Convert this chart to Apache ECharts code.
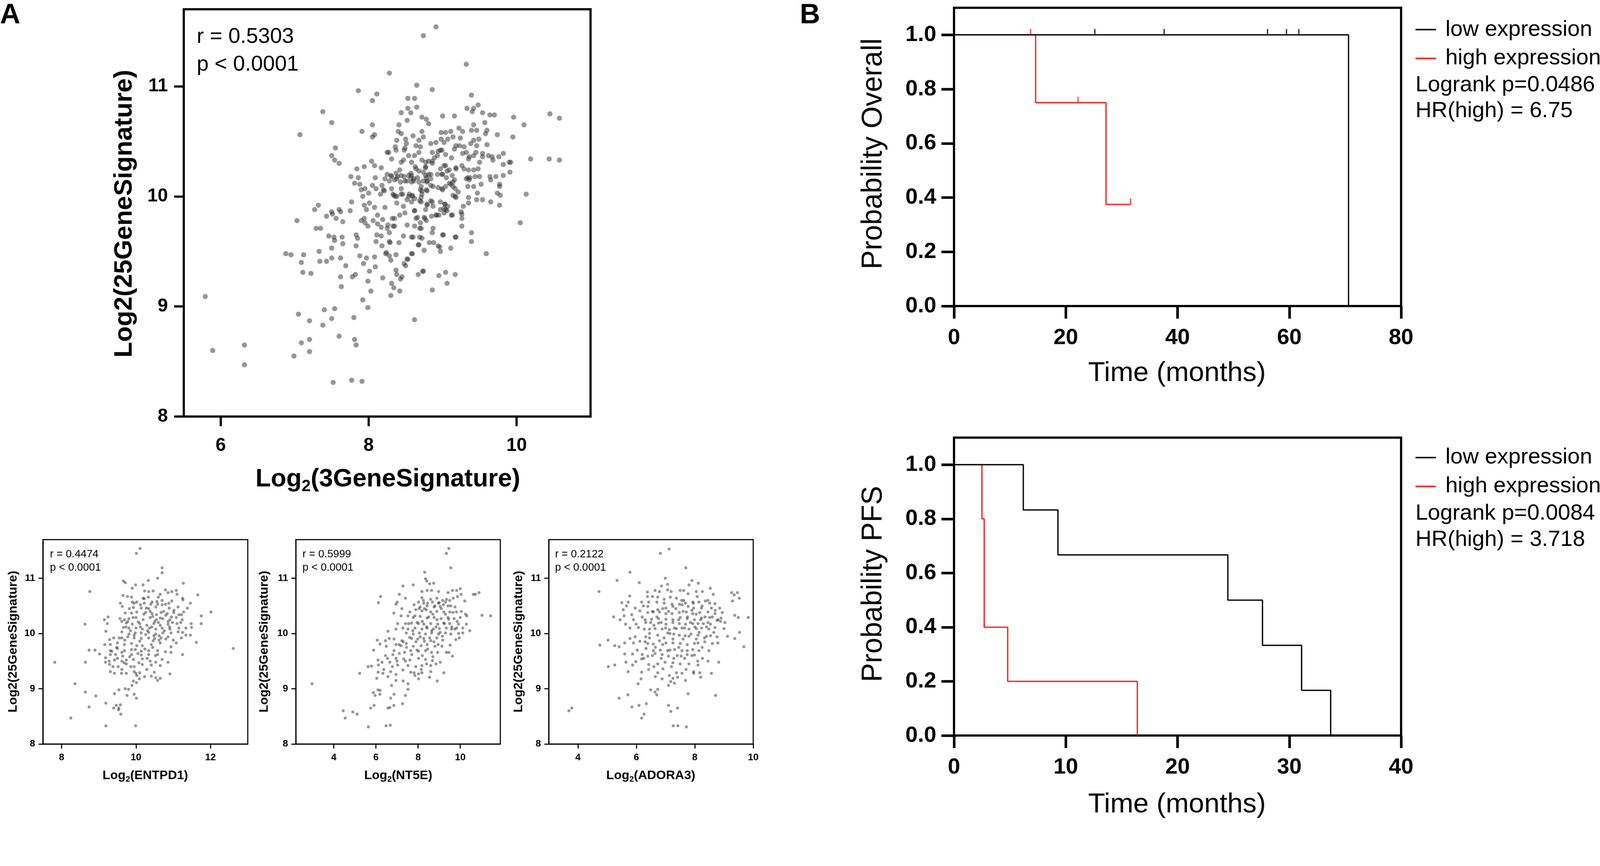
<!DOCTYPE html>
<html>
<head>
<meta charset="utf-8">
<script src="https://cdn.jsdelivr.net/npm/echarts@6/dist/echarts.min.js"></script>
<style>
  html, body { margin: 0; padding: 0; background: #fff; overflow: hidden; }
  #chart { width: 4327px; height: 2218px; transform-origin: 0 0; }
</style>
</head>
<body>
<div id="chart"></div>
<script>
// --- data ---
// panel A, big scatter: log2(3GeneSignature) vs log2(25GeneSignature)
const sig3Points = [
  [7.86,10.96],[8.11,10.93],[8.05,10.87],[7.38,10.77],[7.50,10.67],[7.07,10.56],[8.05,10.65],[7.91,10.59],[8.08,10.56],[8.05,10.54],
  [7.55,10.44],[7.50,10.37],[7.54,10.33],[7.60,10.30],[8.25,10.40],[8.04,10.32],[8.08,10.28],[7.84,10.25],[7.94,10.27],[8.17,10.26],
  [7.76,10.18],[7.86,10.17],[8.09,10.17],[7.81,10.12],[7.88,10.11],[7.90,10.06],[7.95,10.07],[8.00,10.03],[8.05,10.10],[8.10,10.07],
  [8.18,10.10],[8.20,10.06],[7.92,10.00],[8.01,9.94],[8.08,9.90],[7.94,9.92],[7.77,9.95],[7.32,9.92],[7.27,9.88],[7.60,9.88],
  [7.75,9.87],[7.50,9.86],[8.22,9.90],[8.25,10.20],[8.22,10.16],
  [7.43,9.82],[7.51,9.84],[7.56,9.80],[7.62,9.86],[7.03,9.78],[7.29,9.71],[7.35,9.71],[7.46,9.64],[7.53,9.63],[7.54,9.60],
  [7.64,9.63],[7.65,9.57],[7.83,9.65],[7.85,9.62],[7.83,9.55],[7.65,9.77],[7.90,9.78],[7.94,9.80],[7.95,9.76],[7.99,9.73],
  [8.06,9.78],[8.12,9.83],[8.19,9.79],[8.12,9.75],[8.17,9.72],[8.25,9.71],[8.11,9.65],[8.17,9.64],[8.10,9.59],[8.18,9.55],
  [6.88,9.48],[6.95,9.47],[7.12,9.47],[7.33,9.50],[7.50,9.53],[7.50,9.44],[7.43,9.41],[7.34,9.41],[7.09,9.40],[7.62,9.44],
  [7.88,9.46],[7.97,9.44],[7.93,9.39],[8.08,9.45],[8.23,9.48],[8.09,9.36],[7.69,9.37],[7.11,9.31],[7.22,9.30],[7.62,9.27],
  [7.78,9.27],[7.82,9.29],[8.01,9.32],[7.99,9.23],[8.19,9.26],[7.63,9.18],[8.03,9.14],[7.92,9.06],[7.99,8.99],[5.79,9.09],
  [7.40,8.97],[7.54,8.98],[7.05,8.93],[7.20,8.87],[7.50,8.89],[7.38,8.83],[7.80,8.90],[7.60,8.73],[7.81,8.70],[7.83,8.65],
  [7.20,8.70],[7.09,8.67],[7.20,8.59],[6.99,8.55],[6.32,8.65],[5.89,8.60],[6.32,8.47],[7.52,8.31],[7.77,8.33],[7.91,8.32],
  [10.05,9.76],[9.39,9.67],[9.39,9.59],[9.59,9.48],[9.18,9.63],[9.01,9.65],[9.11,9.53],[8.96,9.54],[8.97,9.50],[9.26,9.73],
  [9.26,9.80],[9.26,9.84],[9.13,9.83],[9.02,9.85],[8.92,9.83],[8.85,9.82],[8.87,9.71],[8.86,9.67],[8.82,9.58],[8.88,9.58],
  [8.75,9.51],[8.72,9.62],[8.67,9.56],[8.60,9.63],[8.47,9.64],[8.41,9.58],[8.29,9.58],[8.28,9.67],[8.33,9.73],[8.32,9.80],
  [8.42,9.83],[8.52,9.74],[8.62,9.73],[8.66,9.81],[8.69,9.71],[8.75,9.81],[8.78,9.78],[8.70,9.76],[8.59,9.48],[8.52,9.43],
  [8.48,9.39],[8.50,9.37],[8.37,9.47],[8.30,9.42],[8.37,9.33],[8.38,9.29],[8.45,9.27],[8.43,9.25],[8.67,9.29],[8.74,9.32],
  [8.95,9.28],[9.04,9.31],[9.17,9.29],[9.06,9.21],[8.86,9.15],[8.31,9.21],[8.34,9.17],[8.42,9.14],[8.30,9.10],[8.62,8.88],
  [8.91,11.54],[8.74,11.46],[9.32,11.20],[8.28,11.12],[8.65,11.01],[8.86,10.97],[8.53,10.89],[8.62,10.89],[9.39,10.92],[8.53,10.80],
  [8.57,10.76],[8.65,10.81],[8.44,10.76],[8.52,10.69],[8.41,10.65],[8.72,10.72],[8.78,10.70],[8.81,10.66],[9.00,10.73],[9.16,10.73],
  [9.33,10.80],[9.40,10.77],[9.48,10.83],[9.42,10.80],[9.54,10.76],[9.64,10.74],[9.70,10.74],[9.57,10.67],[9.96,10.72],[10.10,10.65],
  [10.45,10.75],[10.58,10.71],[10.19,10.34],[10.44,10.34],[10.58,10.33],[10.13,10.02],[9.42,10.65],[9.39,10.60],[9.46,10.60],[9.60,10.60],
  [9.58,10.57],[9.74,10.56],[9.95,10.54],[9.60,10.47],[8.38,10.51],[8.40,10.59],[8.44,10.57],[8.50,10.52],[8.60,10.55],[8.72,10.59],
  [8.74,10.54],[8.68,10.51],[8.64,10.46],[8.70,10.45],[8.51,10.48],[8.49,10.44],[8.36,10.45],[8.37,10.42],[8.27,10.40],[8.31,10.34],
  [8.44,10.31],[8.47,10.33],[8.54,10.37],[8.62,10.37],[8.68,10.40],[8.58,10.31],[8.63,10.27],[8.72,10.33],[8.77,10.27],[8.81,10.32],
  [8.86,10.30],[8.84,10.48],[8.91,10.49],[8.86,10.40],[8.93,10.37],[8.97,10.42],[8.98,10.52],[9.02,10.49],[9.04,10.58],[8.98,10.58],
  [9.07,10.52],[9.11,10.59],[9.14,10.54],[9.22,10.62],[9.27,10.59],[9.24,10.53],[9.18,10.46],[9.16,10.43],[9.23,10.46],[9.29,10.45],
  [9.32,10.40],[9.27,10.39],[9.38,10.48],[9.42,10.51],[9.49,10.52],[9.46,10.46],[9.36,10.36],[9.42,10.37],[9.45,10.40],[9.54,10.39],
  [9.54,10.36],[9.62,10.37],[9.67,10.36],[9.68,10.33],[9.76,10.36],[9.82,10.39],[9.82,10.29],[9.90,10.31],[9.92,10.31],[9.91,10.22],
  [9.82,10.19],[9.72,10.18],[9.64,10.18],[9.65,10.15],[9.50,10.18],[9.44,10.18],[9.50,10.31],[9.35,10.34],[9.35,10.24],[9.42,10.24],
  [9.48,10.25],[9.34,10.17],[9.36,10.15],[9.34,10.09],[9.42,10.09],[9.52,10.11],[9.77,10.11],[9.77,10.09],[9.74,10.03],[9.78,10.01],
  [9.77,9.92],[9.65,9.95],[9.54,9.97],[9.46,9.97],[9.47,10.03],[9.35,9.99],[9.35,9.94],[9.28,9.91],[9.25,9.86],[9.18,9.99],
  [9.21,10.04],[9.14,10.01],[9.17,10.07],[9.11,10.11],[9.14,10.13],[9.13,10.19],[9.18,10.26],[9.09,10.24],[9.02,10.28],[9.06,10.23],
  [9.00,10.20],[9.05,10.17],[9.09,10.12],[9.00,10.06],[8.93,10.20],[8.84,10.20],[8.77,10.19],[8.74,10.14],[8.79,10.13],[8.84,10.10],
  [8.78,10.06],[8.70,10.06],[8.72,10.02],[8.69,9.96],[8.79,9.93],[8.84,9.96],[8.77,9.88],[8.87,9.91],[8.97,9.95],[9.03,9.93],
  [9.07,9.91],[9.04,9.88],[8.97,9.88],[8.62,9.87],[8.55,10.02],[8.59,10.00],[8.58,9.95],[8.52,9.97],[8.47,9.91],[8.38,9.94],
  [8.33,10.02],[8.36,10.00],[8.31,10.07],[8.44,10.07],[8.46,10.02],[8.35,10.15],[8.30,10.19],[8.37,10.21],[8.42,10.24],[8.48,10.18],
  [8.54,10.19],[8.57,10.17],[8.61,10.14],[8.52,10.14],[8.57,10.21],[8.68,10.23],[8.66,10.17],[8.68,10.13],[8.43,10.13],
  [8.26,9.74],[8.35,9.73],[8.35,9.80],[8.49,9.85],[8.62,9.87],[8.64,9.80],[8.76,9.80],[8.71,9.71],[8.58,9.63],[8.69,9.63],
  [8.68,9.56],[9.00,9.65],[9.17,9.63],[9.12,9.83],[8.95,9.83],[9.03,9.93],[9.06,9.87],[9.02,9.89],[8.91,9.83],[8.79,9.92],
  [8.86,9.95],[8.71,9.95],[8.28,9.59],[8.24,9.49],[8.28,9.46],[8.53,9.43],[8.58,9.48],[8.94,9.55],[8.73,9.32],[8.16,10.02],
  [7.97,9.88],[8.48,10.42],[9.26,10.28],[9.29,10.25],[8.97,10.25],[8.99,10.20],[9.04,10.28],[9.12,10.35],[8.89,10.35],[8.94,10.41],
  [8.99,10.42],[9.04,10.38],[8.77,10.31],[8.77,10.26],[8.86,10.32],[8.74,10.22],[8.81,10.20],[8.78,10.17],[8.84,10.16],[8.64,10.25],
  [8.58,10.19],[8.61,10.16],[8.58,10.13],[8.49,10.14],[8.44,10.19],[8.39,10.18],[8.31,10.18],[8.38,10.16],[8.28,10.14],[8.71,10.09],
  [8.79,10.14],[8.87,10.09],[8.94,10.08],[9.04,10.09],[8.99,10.07],[8.72,10.05],[8.71,9.99],[8.79,10.05],[8.54,10.00],[8.59,10.01],
  [8.62,9.98],[8.44,10.02],[8.38,10.00],[8.34,10.01],[8.21,10.05],[9.32,10.16],[9.37,10.17],[9.17,10.00],[9.14,10.09],[9.16,10.15],
  [9.18,10.25]
];

// panel A, small scatter 1: log2(ENTPD1)
const entpd1Points = [
  [10.11,11.54],[10.01,11.45],[10.70,11.19],[10.70,11.10],[10.58,11.00],[10.33,10.96],[9.66,10.95],[9.71,10.92],[9.99,10.88],[10.19,10.88],
  [9.90,10.82],[11.27,10.91],[8.76,10.76],[10.23,10.77],[10.34,10.76],[10.46,10.77],[10.79,10.79],[10.96,10.76],[11.08,10.78],[10.86,10.74],
  [11.66,10.70],[9.65,10.69],[9.88,10.66],[9.77,10.67],[10.19,10.64],[10.33,10.66],[10.65,10.71],[11.10,10.71],[11.25,10.64],[10.02,10.57],
  [9.90,10.57],[11.26,10.61],[9.58,10.55],[10.22,10.55],[10.43,10.57],[10.58,10.53],[10.79,10.53],[10.96,10.59],[11.46,10.55],[12.01,10.39],
  [9.63,10.49],[9.93,10.47],[10.14,10.46],[10.34,10.45],[10.53,10.48],[10.70,10.52],[10.89,10.46],[11.13,10.48],[11.38,10.46],[11.15,10.34],
  [11.01,10.38],[10.84,10.36],[10.67,10.38],[10.43,10.36],[10.26,10.38],[10.02,10.39],[9.88,10.37],[9.71,10.37],[11.75,10.32],[11.22,10.34],
  [11.28,10.39],[9.15,10.25],[9.25,10.30],[9.57,10.27],[9.69,10.25],[9.81,10.27],[10.00,10.29],[10.19,10.25],[10.38,10.29],[10.55,10.25],
  [10.72,10.27],[10.91,10.25],[11.08,10.29],[11.24,10.25],[8.63,10.17],[9.23,10.18],[9.74,10.19],[9.90,10.17],[10.10,10.18],[10.29,10.15],
  [10.48,10.18],[10.65,10.15],[10.86,10.17],[11.10,10.18],[11.48,10.18],[11.75,10.18],[9.66,10.11],[9.81,10.10],[10.00,10.10],[10.17,10.08],
  [10.36,10.10],[10.53,10.08],[10.70,10.10],[10.91,10.08],[11.34,10.10],[11.49,10.11],[9.19,10.04],[9.62,10.03],[9.81,9.99],[9.98,10.01],
  [10.14,10.01],[10.34,10.02],[10.53,9.99],[10.72,10.01],[10.94,10.01],[11.13,10.03],[11.25,10.02],[11.46,9.97],[11.34,9.97],[9.40,9.92],
  [9.62,9.92],[9.78,9.94],[9.95,9.92],[10.14,9.91],[10.34,9.92],[10.50,9.91],[10.67,9.92],[10.86,9.94],[11.22,9.92],[12.61,9.73],
  [11.62,9.84],[11.08,9.83],[9.29,9.89],[9.16,9.80],[9.31,9.80],[9.50,9.83],[9.69,9.80],[9.88,9.82],[10.02,9.78],[10.17,9.78],
  [10.41,9.80],[10.65,9.83],[10.94,9.76],[8.74,9.70],[8.90,9.70],[9.02,9.63],[9.31,9.69],[9.50,9.73],[9.69,9.69],[9.88,9.71],
  [9.98,9.71],[10.14,9.68],[10.34,9.69],[10.58,9.69],[10.79,9.67],[10.94,9.66],[11.25,9.62],[9.18,9.56],[9.31,9.62],[9.45,9.62],
  [9.64,9.59],[9.88,9.62],[10.14,9.61],[10.34,9.62],[10.58,9.62],[9.28,9.50],[9.42,9.52],[9.62,9.50],[9.74,9.52],[9.93,9.53],
  [10.17,9.54],[10.38,9.50],[10.53,9.48],[10.70,9.53],[10.86,9.48],[7.82,9.48],[8.64,9.48],[9.18,9.48],[9.29,9.44],[9.52,9.40],
  [9.74,9.45],[9.95,9.40],[10.17,9.44],[10.41,9.43],[10.65,9.42],[9.38,9.40],[9.31,9.31],[9.42,9.28],[9.62,9.35],[9.61,9.28],
  [9.74,9.28],[9.95,9.31],[10.00,9.28],[10.10,9.29],[10.29,9.35],[10.49,9.30],[10.23,9.22],[10.41,9.23],[10.53,9.20],[10.58,9.15],
  [10.65,9.19],[10.91,9.27],[10.02,9.24],[9.93,9.14],[10.01,9.11],[10.09,9.18],[9.89,9.06],[8.36,9.09],[9.71,9.00],[9.80,8.99],
  [9.54,8.98],[9.42,8.91],[8.64,8.94],[8.92,8.87],[9.76,8.88],[9.95,8.90],[10.01,8.83],[9.19,8.74],[9.47,8.70],[9.58,8.71],
  [9.40,8.65],[9.53,8.62],[9.59,8.54],[8.74,8.67],[8.25,8.47],[9.19,8.33],[9.99,8.33],[9.54,8.65],
  [10.38,10.40],[10.45,10.31],[10.50,10.22],[10.55,10.34],[10.42,10.12],[10.31,10.05],[10.60,10.20],[10.65,10.28],[10.74,10.40],[10.80,10.33],
  [10.86,10.22],[10.90,10.12],[10.98,10.20],[10.76,10.05],[10.62,9.96],[10.46,9.87],[10.26,9.98],[10.10,9.86],[9.95,9.97],[9.85,10.05],
  [9.73,10.12],[9.62,10.22],[9.78,10.22],[9.92,10.29],[10.06,10.21],[10.12,10.12],[10.21,10.35],[10.28,10.46],[10.12,10.52],[10.40,10.53],
  [10.56,10.58],[10.70,10.60],[10.88,10.55],[11.02,10.42],[11.15,10.10],[11.20,10.20],[9.70,9.88],[9.55,9.92],[9.48,9.75],[9.62,9.66],
  [9.83,9.58],[10.05,9.64],[10.24,9.72],[10.45,9.75],[10.52,9.60],[10.30,9.55],[10.08,9.47],[9.86,9.40],[9.68,9.47],[9.50,9.55],
  [9.35,9.68],[10.62,9.88],[10.80,9.90],[11.00,9.88],[10.95,10.30],[10.22,10.63],[9.95,10.55],[9.82,10.45],[10.60,10.66],[10.48,9.96]
];

// panel A, small scatter 2: log2(NT5E)
const nt5ePoints = [
  [9.46,11.54],[9.34,11.45],[9.55,11.19],[8.31,11.11],[8.35,10.99],[8.41,10.95],[8.55,10.90],[8.74,10.91],[7.28,10.86],[7.77,10.88],
  [8.18,10.76],[8.43,10.78],[8.64,10.78],[8.97,10.76],[9.42,10.74],[9.63,10.78],[9.83,10.78],[10.00,10.81],[10.04,10.71],[10.62,10.71],
  [10.89,10.74],[10.72,10.71],[6.22,10.67],[7.11,10.71],[7.40,10.64],[7.01,10.57],[6.12,10.56],[8.18,10.65],[8.89,10.64],[9.17,10.60],
  [9.67,10.64],[9.87,10.67],[10.21,10.59],[8.02,10.57],[8.27,10.55],[8.68,10.57],[8.97,10.55],[9.30,10.57],[9.50,10.60],[6.95,10.53],
  [7.23,10.45],[7.81,10.52],[8.10,10.48],[8.43,10.50],[8.76,10.48],[9.05,10.49],[9.42,10.50],[9.75,10.48],[6.85,10.37],[7.19,10.32],
  [7.61,10.39],[7.89,10.43],[8.18,10.41],[8.39,10.43],[8.60,10.39],[8.89,10.40],[9.22,10.39],[9.50,10.39],[9.82,10.39],[10.25,10.35],
  [10.31,10.32],[11.03,10.33],[11.44,10.32],[10.00,10.29],[7.52,10.32],[7.77,10.29],[8.10,10.31],[8.43,10.28],[8.76,10.29],[9.09,10.27],
  [9.42,10.29],[9.71,10.27],[7.40,10.18],[7.03,10.18],[7.69,10.19],[8.02,10.18],[8.27,10.17],[8.60,10.18],[8.93,10.17],[9.22,10.19],
  [9.50,10.18],[9.92,10.17],[10.29,10.17],[6.95,10.08],[7.28,10.10],[7.52,10.08],[7.85,10.10],[8.18,10.08],[8.43,10.10],[8.72,10.08],
  [9.01,10.09],[9.34,10.10],[9.59,10.08],[9.83,10.10],[10.12,10.10],[10.45,10.05],[6.57,10.04],[7.44,10.01],[7.77,9.99],[8.06,10.01],
  [8.35,9.99],[8.64,10.01],[8.97,9.99],[9.30,10.01],[9.55,9.99],[9.92,10.00],[10.12,10.01],[6.06,9.88],[6.45,9.87],[6.63,9.91],
  [6.86,9.90],[7.23,9.87],[7.69,9.91],[7.98,9.90],[8.27,9.91],[8.60,9.87],[8.89,9.92],[9.17,9.88],[9.79,9.89],[6.19,9.81],
  [6.49,9.77],[6.95,9.80],[7.19,9.78],[7.44,9.82],[7.77,9.77],[8.14,9.78],[8.43,9.80],[8.80,9.77],[9.13,9.77],[9.52,9.79],
  [5.89,9.70],[6.45,9.60],[6.86,9.69],[7.11,9.64],[7.36,9.66],[7.65,9.69],[8.02,9.68],[8.35,9.69],[8.64,9.66],[8.93,9.66],
  [9.34,9.66],[9.63,9.59],[9.46,9.66],[6.10,9.52],[6.29,9.48],[6.66,9.48],[6.95,9.55],[7.32,9.54],[7.61,9.52],[8.02,9.55],
  [8.35,9.53],[8.68,9.51],[9.05,9.48],[5.63,9.40],[5.79,9.41],[6.12,9.43],[6.37,9.35],[6.78,9.40],[7.03,9.43],[7.52,9.42],
  [7.89,9.40],[8.18,9.42],[8.60,9.42],[5.23,9.28],[6.10,9.30],[6.33,9.28],[6.70,9.31],[6.95,9.26],[7.28,9.34],[7.81,9.29],
  [8.02,9.27],[8.18,9.29],[8.60,9.31],[9.22,9.29],[6.04,9.19],[6.57,9.22],[6.95,9.15],[7.29,9.14],[7.85,9.24],[8.02,9.18],
  [8.54,9.21],[8.91,9.14],[7.52,9.09],[2.97,9.09],[6.74,9.06],[6.10,8.98],[6.20,8.97],[6.19,8.90],[5.87,8.93],[5.96,8.88],
  [7.52,8.99],[6.86,8.90],[6.70,8.83],[7.40,8.88],[5.91,8.70],[5.75,8.65],[6.57,8.65],[6.66,8.66],[6.85,8.70],[7.26,8.73],
  [4.45,8.60],[4.54,8.47],[4.90,8.58],[5.11,8.54],[5.64,8.31],[6.48,8.33],[6.68,8.34],
  [8.30,10.45],[8.50,10.30],[8.70,10.35],[8.90,10.25],[9.10,10.45],[9.30,10.35],[8.45,10.55],[8.60,10.62],[8.80,10.50],[9.00,10.56],
  [9.20,10.52],[8.20,10.22],[8.40,10.12],[8.65,10.05],[8.85,10.12],[9.05,10.02],[9.25,10.18],[9.45,10.26],[9.65,10.38],[9.85,10.22],
  [7.95,10.20],[7.75,10.05],[7.60,9.93],[7.90,9.85],[8.10,9.94],[8.30,9.86],[8.55,9.92],[8.75,9.85],[8.95,9.80],[9.15,9.95],
  [7.45,9.75],[7.70,9.62],[7.95,9.70],[8.20,9.60],[8.45,9.72],[8.70,9.58],[7.30,9.85],[7.10,9.80],[7.55,10.18],[7.85,10.32],
  [8.05,10.45],[8.25,10.60],[9.35,10.62],[9.55,10.50],[9.75,10.08],[9.95,9.92],[8.15,9.35],[7.65,9.30],[7.40,9.50],[7.00,9.50],
  [6.80,9.62],[6.55,9.55],[8.40,9.45],[8.85,9.45],[9.60,10.12],[10.05,10.40]
];

// panel A, small scatter 3: log2(ADORA3)
const adora3Points = [
  [7.12,11.53],[6.82,11.45],[7.69,11.19],[5.78,11.11],[5.34,10.96],[6.99,11.00],[6.10,10.92],[7.90,10.96],[8.12,10.91],[7.07,10.89],
  [6.86,10.86],[7.80,10.88],[4.72,10.76],[6.38,10.75],[6.64,10.78],[6.79,10.76],[7.07,10.79],[7.19,10.76],[7.50,10.78],[7.62,10.78],
  [7.77,10.72],[8.05,10.76],[8.26,10.76],[8.53,10.82],[8.63,10.71],[9.26,10.74],[9.35,10.70],[9.46,10.74],[9.52,10.64],[9.29,10.59],
  [5.77,10.68],[6.38,10.67],[6.55,10.67],[6.73,10.66],[7.16,10.66],[7.37,10.64],[7.62,10.60],[8.08,10.67],[8.36,10.59],[5.50,10.56],
  [5.72,10.57],[6.18,10.57],[6.42,10.57],[6.70,10.57],[6.95,10.55],[7.22,10.53],[7.47,10.53],[7.68,10.55],[7.93,10.57],[8.14,10.57],
  [8.51,10.55],[8.69,10.54],[5.55,10.43],[5.66,10.50],[5.96,10.46],[6.24,10.50],[6.39,10.49],[6.73,10.43],[7.01,10.46],[7.25,10.49],
  [7.56,10.52],[7.77,10.49],[7.96,10.46],[8.23,10.46],[8.57,10.46],[8.85,10.46],[5.22,10.30],[5.44,10.25],[5.58,10.32],[5.84,10.34],
  [6.12,10.41],[6.39,10.38],[6.58,10.39],[6.79,10.39],[7.01,10.36],[7.22,10.36],[7.47,10.38],[7.71,10.39],[7.93,10.36],[8.17,10.38],
  [8.45,10.39],[8.69,10.36],[8.94,10.38],[9.37,10.33],[9.83,10.29],[9.49,10.29],[5.90,10.25],[6.30,10.25],[6.52,10.26],[6.76,10.27],
  [7.01,10.26],[7.25,10.25],[7.50,10.29],[7.74,10.27],[7.99,10.25],[8.23,10.28],[8.51,10.29],[8.76,10.24],[5.63,10.17],[5.99,10.17],
  [6.32,10.20],[6.49,10.20],[6.76,10.19],[7.01,10.17],[7.25,10.20],[7.47,10.18],[7.68,10.17],[7.93,10.18],[8.11,10.18],[8.29,10.18],
  [8.54,10.17],[8.88,10.22],[9.03,10.20],[5.78,10.10],[6.07,10.11],[6.27,10.08],[6.45,10.08],[6.64,10.09],[6.88,10.08],[7.13,10.07],
  [7.37,10.09],[7.56,10.10],[7.80,10.08],[8.05,10.09],[8.23,10.10],[8.48,10.08],[8.69,10.11],[9.00,10.09],[5.78,9.91],[5.96,9.94],
  [6.32,9.94],[6.45,9.92],[6.73,9.97],[6.95,9.92],[7.07,10.01],[7.28,9.99],[7.47,9.97],[7.67,9.96],[7.87,9.99],[8.11,9.97],
  [8.33,9.92],[8.54,9.96],[8.76,9.94],[9.12,9.95],[9.37,9.91],[9.53,10.02],[5.03,9.88],[5.60,9.83],[5.26,9.78],[5.41,9.76],
  [4.75,9.79],[5.90,9.83],[6.12,9.86],[6.39,9.82],[6.58,9.81],[6.79,9.87],[7.01,9.83],[7.25,9.83],[7.50,9.82],[7.74,9.80],
  [7.99,9.82],[8.11,9.83],[8.34,9.85],[8.60,9.82],[8.79,9.83],[9.68,9.76],[6.03,9.70],[6.33,9.73],[6.58,9.69],[6.82,9.70],
  [7.07,9.69],[7.31,9.71],[7.56,9.69],[7.74,9.69],[7.93,9.71],[8.14,9.69],[8.48,9.69],[5.60,9.63],[5.87,9.63],[6.20,9.62],
  [6.39,9.59],[6.64,9.64],[6.88,9.62],[7.10,9.59],[7.28,9.55],[7.53,9.59],[7.74,9.62],[7.99,9.61],[8.26,9.55],[8.45,9.50],
  [8.82,9.48],[5.04,9.40],[5.26,9.43],[5.64,9.48],[5.87,9.43],[5.98,9.49],[6.18,9.54],[6.42,9.44],[6.73,9.45],[6.98,9.48],
  [7.25,9.47],[7.50,9.45],[7.80,9.45],[8.11,9.43],[5.72,9.31],[6.18,9.30],[6.42,9.35],[6.73,9.29],[6.91,9.36],[7.13,9.24],
  [7.37,9.29],[7.56,9.28],[7.96,9.31],[8.17,9.29],[8.57,9.28],[6.65,9.22],[6.88,9.18],[7.25,9.19],[7.41,9.21],[7.68,9.15],
  [7.96,9.28],[8.20,9.21],[6.16,9.18],[6.06,9.09],[7.18,9.13],[7.30,9.10],[7.10,9.06],[6.49,8.98],[6.64,8.94],[6.70,8.89],
  [6.73,8.99],[5.71,8.89],[5.41,8.83],[7.77,8.91],[8.71,8.88],[6.34,8.73],[6.09,8.70],[5.85,8.67],[7.10,8.70],[7.18,8.59],
  [7.41,8.65],[6.26,8.54],[6.18,8.47],[3.69,8.60],[3.79,8.65],[7.26,8.33],[7.42,8.33],[7.71,8.31],
  [7.60,10.40],[7.75,10.30],[7.90,10.42],[8.05,10.35],[8.20,10.25],[8.35,10.30],[8.45,10.20],[8.60,10.30],[7.85,10.20],[8.00,10.12],
  [8.15,10.02],[8.40,10.12],[7.65,10.10],[7.45,10.25],[7.30,10.10],[7.15,10.00],[7.00,10.10],[6.85,10.20],[6.70,10.30],[6.55,10.40],
  [6.90,10.45],[7.10,10.40],[7.35,10.45],[7.25,9.90],[7.45,9.75],[7.60,9.90],[7.80,9.95],[8.05,9.90],[8.25,9.75],[8.40,9.95],
  [8.65,10.02],[8.80,10.25],[6.45,10.00],[6.30,9.85],[6.65,9.75],[6.90,9.80],[7.15,9.70],[7.40,9.60],[7.65,9.55],[7.90,9.60],
  [8.10,9.50],[6.85,9.55],[6.55,9.60],[6.25,9.55],[7.95,10.55],[8.25,10.50],[8.45,10.60],[7.55,10.60],[6.95,10.62],[6.60,10.15],
  [6.20,10.30],[8.70,10.42],[8.90,10.28],[7.20,9.40],[7.70,9.35],[6.60,9.40]
];

// panel B, Kaplan-Meier, overall survival (months, probability)
const osLowTime = [0, 70.6];
const osLowSurv = [1, 0];
const osHighTime = [0, 14.6, 27.2, 31.6];
const osHighSurv = [1, 0.75, 0.375, 0.375];
const osLowCensorTime = [25.2, 37.6, 56.1, 59.5, 61.7];
const osLowCensorSurv = [1, 1, 1, 1, 1];
const osHighCensorTime = [13.7, 22.2, 31.6];
const osHighCensorSurv = [1, 0.75, 0.375];

// panel B, Kaplan-Meier, progression free survival
const pfsLowTime = [0, 6.2, 9.3, 24.5, 27.6, 31.1, 33.7];
const pfsLowSurv = [1, 0.833, 0.667, 0.5, 0.333, 0.167, 0];
const pfsHighTime = [0, 2.5, 2.7, 4.8, 16.4];
const pfsHighSurv = [1, 0.8, 0.4, 0.2, 0];

// tick labels
const sig25Ticks = [8, 9, 10, 11];
const sig3Ticks = [6, 8, 10];
const entpd1Ticks = [8, 10, 12];
const nt5eTicks = [4, 6, 8, 10];
const adora3Ticks = [4, 6, 8, 10];
const osTimeTicks = [0, 20, 40, 60, 80];
const pfsTimeTicks = [0, 10, 20, 30, 40];
const probTicks = [0, 0.2, 0.4, 0.6, 0.8, 1.0];

const FONT = '"Liberation Sans", Arial, Helvetica, sans-serif';
const DOT = 'rgba(42,42,42,0.62)';
const RED = '#ff1a1a';

// the layout is in 4327x2218 px; shrink it if the viewport is smaller
const chartEl = document.getElementById('chart');
const fit = Math.min(window.innerWidth / 4327, window.innerHeight / 2218);
if (fit > 0 && Math.abs(fit - 1) > 0.002) {
  chartEl.style.transform = 'scale(' + fit + ')';
}

var myChart = echarts.init(chartEl);

function zip(a, b) {
  return a.map((v, i) => [v, b[i]]);
}

// value axis in the Prism look: thick line, outward ticks, bold labels
function axis(grid, min, max, ticks, s) {
  return {
    type: 'value',
    gridIndex: grid,
    min: min,
    max: max,
    axisLine: { show: true, onZero: false, lineStyle: { color: '#000', width: s.line } },
    axisTick: { show: true, customValues: ticks, length: s.tick, lineStyle: { color: '#000', width: s.tickWidth || s.line } },
    axisLabel: {
      customValues: ticks, margin: s.margin, color: '#000',
      fontSize: s.font, fontWeight: 'bold', fontFamily: FONT,
      formatter: s.fmt || (v => String(v))
    },
    splitLine: { show: false }
  };
}

function box(left, top, width, height, bw) {
  return { left: left, top: top, width: width, height: height, show: true, borderColor: '#000', borderWidth: bw, backgroundColor: 'transparent' };
}

function text(x, y, str, font, align) {
  return {
    type: 'text', x: x, y: y, silent: true,
    style: { text: str, font: font, fill: '#000', align: align || 'left', verticalAlign: 'middle' }
  };
}

// x title with subscript 2 after "Log"
function subTitle(x, y, rest, size, subSize, lh, subLh) {
  return {
    type: 'text', x: x, y: y, silent: true,
    style: {
      text: '{a|Log}{s|2}{a|' + rest + '}',
      align: 'center', verticalAlign: 'middle',
      rich: {
        a: { fontSize: size, fontWeight: 'bold', fontFamily: FONT, fill: '#000', lineHeight: lh },
        s: { fontSize: subSize, fontWeight: 'bold', fontFamily: FONT, fill: '#000', lineHeight: subLh, verticalAlign: 'bottom' }
      }
    }
  };
}

function vTitle(x, y, str, font) {
  return {
    type: 'text', x: x, y: y, rotation: Math.PI / 2, silent: true,
    style: { text: str, font: font, fill: '#000', align: 'center', verticalAlign: 'middle' }
  };
}

function legendLine(x, y, color) {
  return { type: 'line', silent: true, shape: { x1: x, y1: y, x2: x + 55, y2: y }, style: { stroke: color, lineWidth: 4 } };
}

const mainSy = { line: 6, tick: 26, margin: 43, font: 50 };
const mainSx = { line: 6, tick: 26, margin: 54, font: 50 };
const smallSy = { line: 3, tick: 12, margin: 21, font: 26 };
const smallSx = { line: 3, tick: 12, margin: 24, font: 26 };
const kmSy = { line: 6, tickWidth: 7, tick: 34, margin: 48, font: 60, fmt: v => v.toFixed(1) };
const kmSx = { line: 6, tickWidth: 7, tick: 34, margin: 56, font: 60 };

function dots(grid, data, size) {
  return {
    type: 'scatter', xAxisIndex: grid, yAxisIndex: grid, data: data,
    symbol: 'circle', symbolSize: size, silent: true, large: false,
    itemStyle: { color: DOT }
  };
}

function kmLine(grid, t, s, color, z) {
  return {
    type: 'line', xAxisIndex: grid, yAxisIndex: grid, data: zip(t, s),
    step: 'end', symbol: 'none', silent: true, z: z,
    lineStyle: { color: color, width: 3.5 }
  };
}

function censor(grid, t, s, color, z) {
  return {
    type: 'scatter', xAxisIndex: grid, yAxisIndex: grid, data: zip(t, s),
    symbol: 'rect', symbolSize: [3.5, 16], symbolOffset: [0, '-50%'], silent: true, z: z,
    itemStyle: { color: color }
  };
}

const option = {
  animation: false,
  backgroundColor: '#fff',
  grid: [
    box(497, 25, 1100, 1102, 6),
    box(116, 1460, 554, 553, 3),
    box(800, 1460, 553, 553, 3),
    box(1484, 1460, 553, 553, 3),
    box(2580, 21, 1209, 807, 6),
    box(2580, 1184, 1209, 806, 6)
  ],
  xAxis: [
    axis(0, 5.5, 11, sig3Ticks, mainSx),
    axis(1, 7.5, 13, entpd1Ticks, smallSx),
    axis(2, 2.2, 11.9, nt5eTicks, smallSx),
    axis(3, 3, 10, adora3Ticks, smallSx),
    axis(4, 0, 80, osTimeTicks, kmSx),
    axis(5, 0, 40, pfsTimeTicks, kmSx)
  ],
  yAxis: [
    axis(0, 8, 11.7, sig25Ticks, mainSy),
    axis(1, 8, 11.7, sig25Ticks, smallSy),
    axis(2, 8, 11.7, sig25Ticks, smallSy),
    axis(3, 8, 11.7, sig25Ticks, smallSy),
    axis(4, 0, 1.1, probTicks, kmSy),
    axis(5, 0, 1.1, probTicks, kmSy)
  ],
  series: [
    dots(0, sig3Points, 14),
    dots(1, entpd1Points, 8),
    dots(2, nt5ePoints, 8),
    dots(3, adora3Points, 8),
    kmLine(4, osHighTime, osHighSurv, RED, 3),
    censor(4, osHighCensorTime, osHighCensorSurv, RED, 3),
    kmLine(4, osLowTime, osLowSurv, '#000', 4),
    censor(4, osLowCensorTime, osLowCensorSurv, '#000', 4),
    kmLine(5, pfsHighTime, pfsHighSurv, RED, 3),
    kmLine(5, pfsLowTime, pfsLowSurv, '#000', 4)
  ],
  graphic: {
    elements: [
      text(0, 42, 'A', 'bold 76px ' + FONT),
      text(2163, 42, 'B', 'bold 76px ' + FONT),

      // big scatter
      text(532, 100, 'r = 0.5303', '58px ' + FONT),
      text(532, 175, 'p < 0.0001', '58px ' + FONT),
      vTitle(337, 578, 'Log2(25GeneSignature)', 'bold 69px ' + FONT),
      subTitle(1049, 1297, '(3GeneSignature)', 68, 44, 84, 30),

      // small scatters
      text(135, 1500, 'r = 0.4474', '29px ' + FONT),
      text(135, 1536, 'p < 0.0001', '29px ' + FONT),
      vTitle(36, 1736, 'Log2(25GeneSignature)', 'bold 34px ' + FONT),
      subTitle(393, 2099, '(ENTPD1)', 34, 22, 42, 16),

      text(818, 1500, 'r = 0.5999', '29px ' + FONT),
      text(818, 1536, 'p < 0.0001', '29px ' + FONT),
      vTitle(715, 1736, 'Log2(25GeneSignature)', 'bold 34px ' + FONT),
      subTitle(1077, 2099, '(NT5E)', 34, 22, 42, 16),

      text(1501, 1500, 'r = 0.2122', '29px ' + FONT),
      text(1501, 1536, 'p < 0.0001', '29px ' + FONT),
      vTitle(1403, 1736, 'Log2(25GeneSignature)', 'bold 34px ' + FONT),
      subTitle(1760, 2099, '(ADORA3)', 34, 22, 42, 16),

      // KM overall
      vTitle(2363, 416, 'Probability Overall', '77px ' + FONT),
      text(3183, 1010, 'Time (months)', '75px ' + FONT, 'center'),
      legendLine(3828, 80, '#000'),
      text(3909, 80, 'low expression', '60px ' + FONT),
      legendLine(3828, 158, RED),
      text(3909, 157, 'high expression', '60px ' + FONT),
      text(3828, 230, 'Logrank p=0.0486', '60px ' + FONT),
      text(3828, 300, 'HR(high) = 6.75', '60px ' + FONT),

      // KM PFS
      vTitle(2363, 1580, 'Probability PFS', '77px ' + FONT),
      text(3183, 2177, 'Time (months)', '75px ' + FONT, 'center'),
      legendLine(3828, 1238, '#000'),
      text(3909, 1237, 'low expression', '60px ' + FONT),
      legendLine(3828, 1316, RED),
      text(3909, 1315, 'high expression', '60px ' + FONT),
      text(3828, 1389, 'Logrank p=0.0084', '60px ' + FONT),
      text(3828, 1460, 'HR(high) = 3.718', '60px ' + FONT)
    ]
  }
};

myChart.setOption(option);
</script>
</body>
</html>
